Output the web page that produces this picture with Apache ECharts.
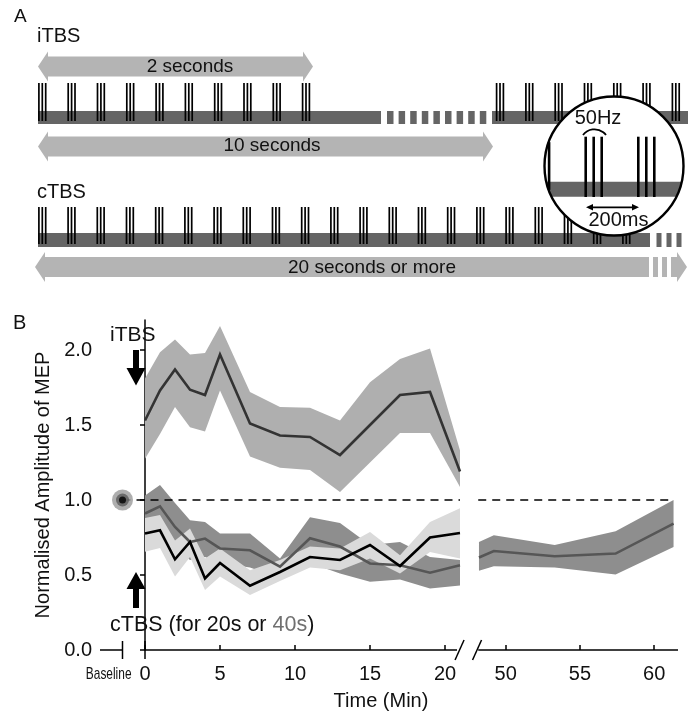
<!DOCTYPE html>
<html><head><meta charset="utf-8">
<script src="https://cdn.jsdelivr.net/npm/echarts@6/dist/echarts.min.js"></script>
<style>html,body{margin:0;padding:0;background:#fff}#c{width:693px;height:715px}</style>
</head><body><div id="c"></div>
<script>
const FONT = "'Liberation Sans', Arial, Helvetica, sans-serif";

// ---------- Panel B data ----------
const timeEarly = [0, 1, 2, 3, 4, 5, 7, 9, 11, 13, 15, 17, 19, 21];
const itbsMean  = [1.53, 1.73, 1.87, 1.735, 1.70, 1.97, 1.51, 1.43, 1.42, 1.30, 1.50, 1.70, 1.72, 1.19];
const itbsUpper = [1.81, 1.985, 2.07, 1.97, 1.98, 2.16, 1.72, 1.62, 1.615, 1.53, 1.785, 1.94, 2.01, 1.33];
const itbsLower = [1.275, 1.44, 1.62, 1.485, 1.457, 1.73, 1.29, 1.215, 1.20, 1.053, 1.25, 1.446, 1.446, 1.087];

const ctbs20Mean  = [0.776, 0.798, 0.605, 0.72, 0.477, 0.58, 0.428, 0.52, 0.62, 0.60, 0.70, 0.56, 0.75, 0.78];
const ctbs20Upper = [0.88, 0.90, 0.73, 0.81, 0.61, 0.677, 0.532, 0.60, 0.69, 0.677, 0.787, 0.632, 0.854, 0.945];
const ctbs20Lower = [0.655, 0.68, 0.49, 0.62, 0.40, 0.49, 0.366, 0.46, 0.55, 0.532, 0.61, 0.51, 0.654, 0.61];

const ctbs40Mean  = [0.91, 0.958, 0.82, 0.72, 0.743, 0.677, 0.665, 0.555, 0.745, 0.69, 0.577, 0.565, 0.515, 0.565];
const ctbs40Upper = [1.03, 1.10, 0.98, 0.865, 0.854, 0.776, 0.776, 0.61, 0.885, 0.847, 0.70, 0.72, 0.62, 0.60];
const ctbs40Lower = [0.80, 0.84, 0.68, 0.60, 0.62, 0.58, 0.55, 0.48, 0.58, 0.51, 0.455, 0.47, 0.41, 0.43];

const timeLate = [48.2, 49.2, 53.3, 57.4, 61.3];
const ctbs40LateMean  = [0.617, 0.66, 0.625, 0.643, 0.843];
const ctbs40LateUpper = [0.72, 0.765, 0.70, 0.792, 1.0];
const ctbs40LateLower = [0.528, 0.559, 0.55, 0.504, 0.687];

const baselineTime = [-1.5];
const baselineValue = [1.0];
const baselineLabel = 'Baseline';
const referenceLevel = 1.0;

const yTicks = [0, 0.5, 1.0, 1.5, 2.0];
const xTicksEarly = [0, 5, 10, 15, 20];
const xTicksLate = [50, 55, 60];
const xRangeEarly = [-3, 21];
const xRangeLate = [48, 61.6];
const yRange = [0, 2.2];
const axisSegmentsEarly = [[-3, -1.5], [0, 20.8]];
const axisSegmentsLate = [[48.15, 61.6]];
const segmentEndTicks = [-1.5, 0];
const breakEarly = [20.97];
const breakLate = [48.07];
const refSpanEarly = [-1.5, 21];
const refSpanLate = [48.15, 61.3];

// ---------- colours ----------
const C_ITBS_BAND = '#afafaf', C_ITBS_LINE = '#333333';
const C_40_BAND = '#8e8e8e', C_40_LINE = '#565656';
const C_20_BAND = '#dadada', C_20_LINE = '#000000';
const ARROW_GRAY = '#b4b4b4', BAR_GRAY = '#656565';

function bandSeries(xi, xs, lo, hi, color) {
  const rows = xs.map((x, i) => [x, lo[i], hi[i]]);
  return {type: 'custom', xAxisIndex: xi, yAxisIndex: xi, silent: true, data: rows,
    renderItem: (params, api) => {
      if (params.dataIndex !== 0) return null;
      const top = rows.map(r => api.coord([r[0], r[2]]));
      const bot = rows.map(r => api.coord([r[0], r[1]])).reverse();
      return {type: 'polygon', shape: {points: top.concat(bot)}, style: {fill: color, stroke: null}};
    }};
}
function meanSeries(xi, xs, m, color) {
  return {type: 'line', xAxisIndex: xi, yAxisIndex: xi, data: xs.map((x, i) => [x, m[i]]),
    symbol: 'none', lineStyle: {color: color, width: 2.6, join: 'miter'}, silent: true};
}
function segLines(xi, segs, y, style) {
  return {type: 'lines', coordinateSystem: 'cartesian2d', xAxisIndex: xi, yAxisIndex: xi, silent: true, clip: false,
    data: segs.map(s => ({coords: [[s[0], y], [s[1], y]]})), lineStyle: style, z: 5};
}
function markSeries(xi, xs, draw) {
  return {type: 'custom', xAxisIndex: xi, yAxisIndex: xi, silent: true, clip: false, z: 6,
    data: xs.map(v => [v, 0]),
    renderItem: (params, api) => draw(api.coord([api.value(0), api.value(1)]))};
}
const crossTick = p => ({type: 'line', shape: {x1: p[0], y1: p[1] - 9, x2: p[0], y2: p[1] + 9}, style: {stroke: '#000', lineWidth: 1.5}});
const slash = p => ({type: 'line', shape: {x1: p[0] - 4.5, y1: p[1] + 10, x2: p[0] + 4.5, y2: p[1] - 10}, style: {stroke: '#000', lineWidth: 1.5}});
// baseline category label: condensed, placed just left of its tick so it clears the "0" label
const baselineText = p => ({type: 'text', x: p[0] + 9, y: p[1] + 24, scaleX: 0.7,
  style: {text: baselineLabel, fontFamily: FONT, fontSize: 17, fill: '#111', align: 'right', verticalAlign: 'middle'}});

const series = [
  bandSeries(0, timeEarly, itbsLower, itbsUpper, C_ITBS_BAND),
  meanSeries(0, timeEarly, itbsMean, C_ITBS_LINE),
  bandSeries(0, timeEarly, ctbs40Lower, ctbs40Upper, C_40_BAND),
  meanSeries(0, timeEarly, ctbs40Mean, C_40_LINE),
  bandSeries(0, timeEarly, ctbs20Lower, ctbs20Upper, C_20_BAND),
  meanSeries(0, timeEarly, ctbs20Mean, C_20_LINE),
  bandSeries(1, timeLate, ctbs40LateLower, ctbs40LateUpper, C_40_BAND),
  meanSeries(1, timeLate, ctbs40LateMean, C_40_LINE),
  segLines(0, [refSpanEarly], referenceLevel, {color: '#000', width: 1.6, type: [8, 6], opacity: 1}),
  segLines(1, [refSpanLate], referenceLevel, {color: '#000', width: 1.6, type: [8, 6], opacity: 1}),
  segLines(0, axisSegmentsEarly, 0, {color: '#000', width: 1.5, type: 'solid', opacity: 1}),
  segLines(1, axisSegmentsLate, 0, {color: '#000', width: 1.5, type: 'solid', opacity: 1}),
  markSeries(0, segmentEndTicks, crossTick),
  markSeries(0, breakEarly, slash),
  markSeries(1, breakLate, slash),
  markSeries(0, baselineTime, baselineText),
  {type: 'scatter', xAxisIndex: 0, yAxisIndex: 0, data: baselineTime.map((x, i) => [x, baselineValue[i]]), symbolSize: 21, itemStyle: {color: '#9a9a9a'}, z: 8, silent: true},
  {type: 'scatter', xAxisIndex: 0, yAxisIndex: 0, data: baselineTime.map((x, i) => [x, baselineValue[i]]), symbolSize: 13, itemStyle: {color: '#5a5a5a'}, z: 9, silent: true},
  {type: 'scatter', xAxisIndex: 0, yAxisIndex: 0, data: baselineTime.map((x, i) => [x, baselineValue[i]]), symbolSize: 7, itemStyle: {color: '#000'}, z: 10, silent: true}
];

// ---------- Panel A schematic + annotations ----------
const el = [];
function T(x, y, text, size, opt) {
  el.push({type: 'text', x: x, y: y, silent: true, z: 20,
    style: Object.assign({text: text, fontSize: size, fontFamily: FONT, fill: '#111', align: 'left', verticalAlign: 'middle'}, opt || {})});
}
function rect(x1, x2, y1, y2, fill) {
  el.push({type: 'rect', silent: true, shape: {x: x1, y: y1, width: x2 - x1, height: y2 - y1}, style: {fill: fill}});
}
function line(x1, y1, x2, y2, w, color) {
  el.push({type: 'line', silent: true, shape: {x1, y1, x2, y2}, style: {stroke: color || '#000', lineWidth: w}});
}
function blockArrow(x1, x2, cy, leftHead, rightHead) {
  const b = 10, h = 15, L = 10, pts = [];
  if (leftHead) pts.push([x1, cy], [x1 + L, cy - h], [x1 + L, cy - b]); else pts.push([x1, cy - b]);
  if (rightHead) pts.push([x2 - L, cy - b], [x2 - L, cy - h], [x2, cy], [x2 - L, cy + h], [x2 - L, cy + b]);
  else pts.push([x2, cy - b], [x2, cy + b]);
  if (leftHead) pts.push([x1 + L, cy + b], [x1 + L, cy + h]); else pts.push([x1, cy + b]);
  el.push({type: 'polygon', silent: true, shape: {points: pts}, style: {fill: ARROW_GRAY}});
}
function bursts(start, period, n, top, bot) {
  for (let k = 0; k < n; k++) {
    const c = start + period * k;
    [-3.4, 0, 3.4].forEach(d => line(c + d, top, c + d, bot, 1.7));
  }
}
function dashes(start, period, width, n, y1, y2) {
  for (let k = 0; k < n; k++) rect(start + period * k, start + period * k + width, y1, y2, BAR_GRAY);
}

T(14, 17, 'A', 19);
T(37, 36, 'iTBS', 20);
blockArrow(38, 313, 66.5, true, true);
T(190, 66.5, '2 seconds', 19, {align: 'center'});
rect(38, 381, 111, 124, BAR_GRAY);
dashes(387, 11.6, 6.5, 9, 111, 124);
rect(492, 688, 111, 124, BAR_GRAY);
bursts(42.3, 29.3, 10, 83, 121);
bursts(500, 29.3, 7, 83, 121);
blockArrow(38, 493, 146.5, true, true);
T(272, 146, '10 seconds', 19, {align: 'center'});

T(37, 192, 'cTBS', 20);
rect(38, 650, 233, 247, BAR_GRAY);
dashes(656.5, 10, 5, 3, 233, 247);
bursts(42.3, 29.2, 21, 207, 244);
blockArrow(35, 649, 267, true, false);
rect(653, 658, 257, 277, ARROW_GRAY);
rect(662, 667, 257, 277, ARROW_GRAY);
blockArrow(671, 687, 267, false, true);
T(372, 267.5, '20 seconds or more', 19, {align: 'center'});

// magnifier
const MC = {cx: 614, cy: 166, r: 69.5};
el.push({type: 'circle', silent: true, shape: {cx: MC.cx, cy: MC.cy, r: MC.r}, style: {fill: '#fff', stroke: 'none'}});
(function () {
  const y1 = 181.7, y2 = 196.7, L = [], R = [];
  for (let i = 0; i <= 10; i++) {
    const y = y1 + (y2 - y1) * i / 10, hw = Math.sqrt(MC.r * MC.r - (y - MC.cy) * (y - MC.cy));
    L.push([MC.cx - hw, y]); R.push([MC.cx + hw, y]);
  }
  el.push({type: 'polygon', silent: true, shape: {points: L.concat(R.reverse())}, style: {fill: BAR_GRAY}});
  for (let k = 0; k < 3; k++) {
    for (let j = 0; j < 3; j++) {
      const x = 533.1 + 52.6 * k + 8 * j, dx = x - MC.cx;
      if (Math.abs(dx) >= MC.r - 1) continue;
      const hh = Math.sqrt(MC.r * MC.r - dx * dx);
      const t = Math.max(136.7, MC.cy - hh + 1), b = Math.min(197, MC.cy + hh - 1);
      if (b > t) line(x, t, x, b, 2.6);
    }
  }
})();
el.push({type: 'circle', silent: true, shape: {cx: MC.cx, cy: MC.cy, r: MC.r}, style: {fill: 'none', stroke: '#000', lineWidth: 2.4}});
el.push({type: 'arc', silent: true, shape: {cx: 594.5, cy: 143.75, r: 14.45, startAngle: 217.2 * Math.PI / 180, endAngle: 322.8 * Math.PI / 180, clockwise: true},
  style: {stroke: '#000', fill: 'none', lineWidth: 1.8}});
T(598, 118.5, '50Hz', 20, {align: 'center'});
line(590, 207.3, 635, 207.3, 1.8);
el.push({type: 'polygon', silent: true, shape: {points: [[586, 207.3], [593, 204], [593, 210.6]]}, style: {fill: '#000'}});
el.push({type: 'polygon', silent: true, shape: {points: [[639, 207.3], [632, 204], [632, 210.6]]}, style: {fill: '#000'}});
T(618.5, 220, '200ms', 20, {align: 'center'});

// Panel B annotations
T(13, 323, 'B', 20);
T(110, 335, 'iTBS', 21);
el.push({type: 'polygon', silent: true, shape: {points: [[133, 350], [139, 350], [139, 368], [145.5, 368], [136, 385.5], [126.5, 368], [133, 368]]}, style: {fill: '#000'}});
el.push({type: 'polygon', silent: true, shape: {points: [[136, 572], [145.5, 589], [139, 589], [139, 608], [133, 608], [133, 589], [126.5, 589]]}, style: {fill: '#000'}});
el.push({type: 'text', x: 110, y: 625.5, silent: true, z: 20, style: {
  text: 'cTBS (for 20s or {g|40s}{k|)}', fontSize: 21.5, fontFamily: FONT, fill: '#111', align: 'left', verticalAlign: 'middle',
  rich: {g: {fill: '#707070', fontSize: 21.5, fontFamily: FONT}, k: {fill: '#111', fontSize: 21.5, fontFamily: FONT}}}});
T(381, 701, 'Time (Min)', 20, {align: 'center'});

const axisLineStyle = {color: '#000', width: 1.5};
const option = {
  animation: false,
  backgroundColor: '#fff',
  grid: [
    {left: 100, top: 320, width: 360, height: 330, outerBoundsMode: 'none', containLabel: false},
    {left: 476, top: 320, width: 202, height: 330, outerBoundsMode: 'none', containLabel: false}
  ],
  xAxis: [
    {gridIndex: 0, type: 'value', min: xRangeEarly[0], max: xRangeEarly[1],
     axisLine: {show: false}, splitLine: {show: false},
     axisTick: {show: true, inside: true, length: 5, customValues: xTicksEarly, lineStyle: axisLineStyle},
     axisLabel: {customValues: xTicksEarly, margin: 14, fontSize: 20, fontFamily: FONT, color: '#111'}},
    {gridIndex: 1, type: 'value', min: xRangeLate[0], max: xRangeLate[1],
     axisLine: {show: false}, splitLine: {show: false},
     axisTick: {show: true, inside: true, length: 5, customValues: xTicksLate, lineStyle: axisLineStyle},
     axisLabel: {customValues: xTicksLate, margin: 14, fontSize: 20, fontFamily: FONT, color: '#111'}}
  ],
  yAxis: [
    {gridIndex: 0, type: 'value', min: yRange[0], max: yRange[1],
     axisLine: {show: true, lineStyle: axisLineStyle}, splitLine: {show: false},
     axisTick: {show: true, inside: false, length: 5, customValues: yTicks, lineStyle: axisLineStyle},
     axisLabel: {customValues: yTicks, formatter: v => v.toFixed(1), margin: 8, fontSize: 20, fontFamily: FONT, color: '#111'},
     name: 'Normalised Amplitude of MEP', nameLocation: 'middle', nameGap: 39,
     nameTextStyle: {fontSize: 20, fontFamily: FONT, color: '#111'}},
    {gridIndex: 1, type: 'value', min: yRange[0], max: yRange[1], show: false}
  ],
  series: series,
  graphic: {elements: el}
};
const chart = echarts.init(document.getElementById('c'), null, {renderer: 'canvas', width: 693, height: 715});
chart.setOption(option);
</script>
</body></html>
